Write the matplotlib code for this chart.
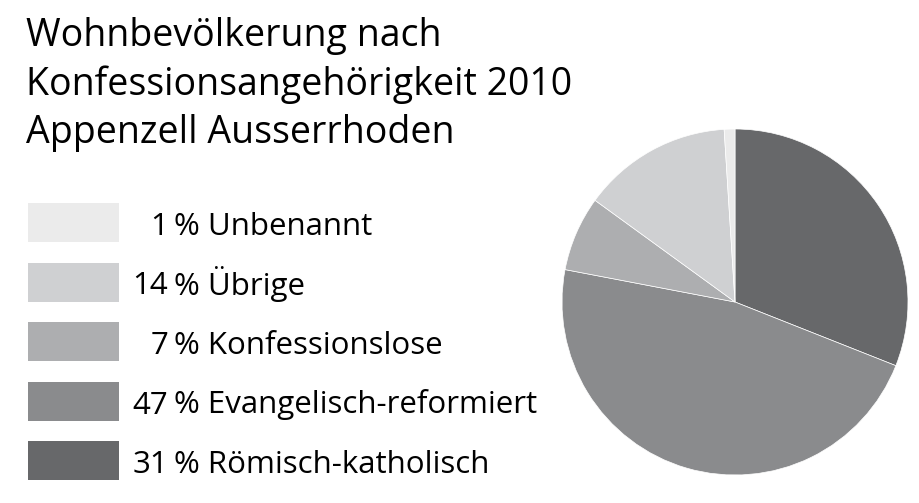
import matplotlib
matplotlib.use('Agg')
import matplotlib.pyplot as plt
from matplotlib.patches import Rectangle

plt.rcParams['font.family'] = ['Open Sans', 'DejaVu Sans']

# data
title_lines = ['Wohnbevölkerung nach', 'Konfessionsangehörigkeit 2010', 'Appenzell Ausserrhoden']
labels = ['Römisch-katholisch', 'Evangelisch-reformiert', 'Konfessionslose', 'Übrige', 'Unbenannt']
shares = [31, 47, 7, 14, 1]
colors = ['#67686a', '#8a8b8d', '#adaeb0', '#cfd0d2', '#ebebeb']

W, H = 919, 503
fig = plt.figure(figsize=(W / 100, H / 100), dpi=100)

# overlay axes in pixel units for title and legend
ax = fig.add_axes([0, 0, 1, 1])
ax.set_xlim(0, W)
ax.set_ylim(H, 0)
ax.axis('off')

for i, line in enumerate(title_lines):
    ax.text(26, 46 + i * 48.5, line, fontsize=27, va='baseline', ha='left', color='black')

# legend, listed top to bottom in reverse order of the pie
for row, idx in enumerate(reversed(range(len(labels)))):
    yc = 222.5 + row * 59.5
    ax.add_patch(Rectangle((28, yc - 19.5), 91, 39, facecolor=colors[idx], edgecolor='none'))
    ax.text(168, yc + 12.5, str(shares[idx]), fontsize=22.5, va='baseline', ha='right')
    ax.text(174, yc + 12.5, '% ' + labels[idx], fontsize=22.5, va='baseline', ha='left')

# pie
r = 173
cx, cy = 735, 302
pax = fig.add_axes([(cx - r) / W, (H - cy - r) / H, 2 * r / W, 2 * r / H])
pax.pie(shares, colors=colors, startangle=90, counterclock=False,
        wedgeprops=dict(edgecolor='white', linewidth=0.5))
pax.set_xlim(-1, 1)
pax.set_ylim(-1, 1)
pax.set_aspect('equal')
pax.axis('off')

fig.savefig('out.png', dpi=100)
